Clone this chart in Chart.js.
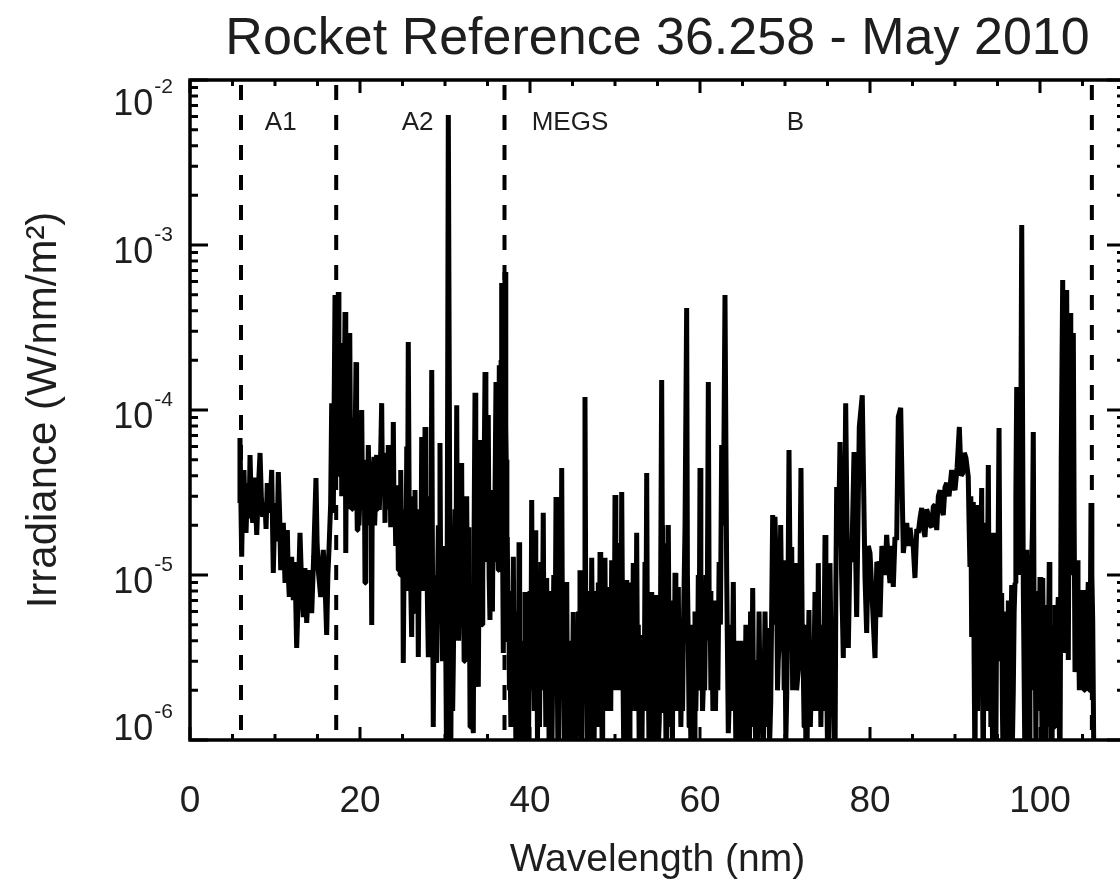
<!DOCTYPE html>
<html>
<head>
<meta charset="utf-8">
<style>
html,body{margin:0;padding:0;overflow:hidden;background:#fff;}
canvas{display:block;}
</style>
<script src="https://cdn.jsdelivr.net/npm/chart.js@4.4.1/dist/chart.umd.min.js"></script>
</head>
<body>
<canvas id="chart" width="1130" height="889" style="width:1130px;height:889px"></canvas>
<script>
// ---- data: [wavelength (nm), irradiance (W/nm/m^2)] ----
const titleText = 'Rocket Reference 36.258 - May 2010';
const xTitle = 'Wavelength (nm)';
const yTitle = 'Irradiance (W/nm/m\u00B2)';

const spectrumA1 = [
[5.80,2.73e-5],[5.88,6.76e-5],[6.08,1.29e-5],[6.20,3.2e-5],[6.35,4.33e-5],[6.47,2.4e-5],[6.59,1.80e-5],[6.72,2.9e-5],
[6.86,3.61e-5],[6.96,2.2e-5],[7.06,5.34e-5],[7.22,2.6e-5],[7.38,2.07e-5],[7.52,3.9e-5],[7.65,3.27e-5],[7.85,1.75e-5],
[8.05,3.4e-5],[8.24,5.49e-5],[8.40,2.9e-5],[8.55,2.25e-5],[8.82,2.73e-5],[8.95,1.9e-5],[9.09,3.61e-5],[9.33,2.38e-5],
[9.48,3.0e-5],[9.61,4.33e-5],[9.80,1.03e-5],[9.95,2.2e-5],[10.12,2.73e-5],[10.25,1.6e-5],[10.39,4.21e-5],[10.55,2.3e-5],
[10.67,1.07e-5],[10.82,1.6e-5],[10.98,2.07e-5],[11.18,8.94e-6],[11.30,1.5e-5],[11.45,1.87e-5],[11.56,1.0e-5],[11.68,7.36e-6],
[11.82,1.1e-5],[11.96,1.29e-5],[12.15,7.05e-6],[12.35,1.2e-5],[12.55,3.61e-6],[12.75,8.0e-6],[12.94,1.80e-5],[13.14,8.5e-6],
[13.33,5.56e-6],[13.52,1.1e-5],[13.73,5.12e-6],[13.90,8.0e-6],[14.04,1.07e-5],[14.32,5.88e-6],[14.55,1.3e-5],[14.82,3.87e-5],
[14.95,1.6e-5],[15.09,1.07e-5],[15.38,7.36e-6],[15.52,1.1e-5],[15.68,1.42e-5],[15.88,9.0e-6],[16.08,4.33e-6],[16.22,1.0e-5],
[16.35,1.42e-5],[16.55,2.73e-5]
];

const spectrumA2 = [
[16.67,1.10e-4],[16.86,2.38e-5],[17.06,4.98e-4],[17.11,6.0e-5],[17.16,4.0e-5],[17.21,2.5e-4],[17.26,1.10e-4],[17.35,3.0e-4],
[17.45,5.19e-4],[17.52,8.0e-5],[17.60,1.2e-4],[17.66,4.0e-5],[17.73,6.86e-5],[17.79,1.5e-4],[17.85,3.0e-5],[17.90,1.2e-4],
[17.96,2.55e-4],[18.03,4.0e-5],[18.10,5.0e-5],[18.17,1.5e-4],[18.24,3.93e-4],[18.30,4.0e-5],[18.35,1.36e-5],[18.42,1.0e-4],
[18.48,6.0e-5],[18.55,2.5e-5],[18.62,1.58e-4],[18.67,6.0e-5],[18.72,3.5e-5],[18.77,1.2e-4],[18.82,2.93e-4],[18.90,4.0e-5],
[18.98,9.0e-5],[19.06,2.5e-5],[19.14,4.33e-5],[19.22,8.0e-5],[19.30,2.8e-5],[19.42,6.0e-5],[19.53,1.95e-4],[19.60,4.0e-5],
[19.68,1.87e-5],[19.75,7.0e-5],[19.82,5.5e-5],[19.88,2.0e-5],[19.95,2.6e-5],[20.08,6.0e-5],[20.20,1.00e-4],[20.30,2.5e-5],
[20.40,3.0e-5],[20.50,5.0e-5],[20.59,8.94e-6],[20.68,4.0e-5],[20.78,3.2e-5],[20.88,2.0e-5],[20.98,6.14e-5],[21.08,3.5e-5],
[21.18,2.2e-5],[21.28,4.0e-5],[21.38,4.98e-6],[21.45,4.0e-5],[21.52,2.5e-5],[21.58,4.5e-5],[21.65,5.19e-5],[21.72,2.0e-5],
[21.80,2.6e-5],[21.88,4.5e-5],[21.96,5.34e-5],[22.03,2.5e-5],[22.10,3.0e-5],[22.18,5.0e-5],[22.27,2.48e-5],[22.40,4.5e-5],
[22.55,1.10e-4],[22.65,3.0e-5],[22.75,3.5e-5],[22.85,5.5e-5],[22.94,2.07e-5],[23.04,4.5e-5],[23.14,3.6e-5],[23.24,2.5e-5],
[23.33,6.14e-5],[23.40,2.5e-5],[23.47,3.0e-5],[23.54,5.0e-5],[23.61,1.95e-5],[23.68,3.0e-5],[23.76,4.0e-5],[23.84,2.0e-5],
[23.92,8.46e-5],[24.00,2.5e-5],[24.10,3.2e-5],[24.20,1.5e-5],[24.32,1.95e-5],[24.42,3.5e-5],[24.51,1.07e-5],[24.58,3.0e-5],
[24.65,2.5e-5],[24.72,1.0e-5],[24.79,4.33e-5],[24.87,2.0e-5],[24.95,1.2e-5],[25.02,2.5e-5],[25.09,2.93e-6],[25.20,1.5e-5],
[25.30,2.0e-5],[25.40,8.0e-6],[25.50,6.0e-5],[25.60,2.0e-5],[25.68,2.58e-4],[25.78,3.0e-5],[25.88,2.2e-5],[25.98,8.0e-6],
[26.08,4.21e-6],[26.18,2.0e-5],[26.28,1.5e-5],[26.38,6.0e-6],[26.47,3.27e-5],[26.56,8.0e-6],[26.66,1.2e-5],[26.76,2.5e-5],
[26.86,3.18e-6],[26.96,1.2e-5],[27.06,2.5e-5],[27.16,8.0e-6],[27.26,6.86e-5],[27.35,1.0e-5],[27.45,2.2e-5],[27.55,8.0e-6],
[27.65,7.89e-5],[27.75,2.5e-5],[27.85,1.5e-5],[27.95,6.0e-6],[28.04,3.18e-6],[28.14,1.2e-5],[28.24,3.0e-5],[28.34,8.0e-6],
[28.44,1.75e-4],[28.53,1.0e-5],[28.62,1.20e-6],[28.72,6.0e-6],[28.82,1.0e-5],[28.92,4.0e-6],[29.02,2.93e-6],[29.12,8.0e-6],
[29.22,2.0e-5],[29.32,6.0e-6],[29.41,6.31e-5],[29.50,8.0e-6],[29.60,1.5e-5],[29.70,3.0e-6],[29.80,4.21e-6],[29.90,1.5e-5],
[30.00,1.2e-5],[30.10,3.0e-6],[30.20,6.0e-7],[30.39,6.14e-3],[30.67,6.0e-7],[30.75,4.0e-6],[30.82,1.0e-5],[30.90,1.5e-6],
[30.98,2.93e-6],[31.08,1.0e-5],[31.18,2.5e-5],[31.28,6.0e-6],[31.38,1.07e-4],[31.45,1.0e-5],[31.52,2.0e-5],[31.60,4.0e-6],
[31.68,6.76e-6],[31.75,2.5e-5],[31.82,1.8e-5],[31.89,5.0e-6],[31.96,4.77e-5],[32.05,6.0e-6],[32.15,1.5e-5],[32.25,3.0e-6],
[32.35,5.56e-6],[32.45,1.5e-5],[32.55,3.0e-5],[32.65,6.0e-6],[32.74,1.95e-5],[32.81,3.0e-6],[32.88,6.0e-6],[32.95,1.2e-6],
[33.02,1.58e-6],[33.10,4.0e-6],[33.18,8.0e-6],[33.25,1.5e-6],[33.33,1.10e-6],[33.43,2.0e-5],[33.53,1.27e-4],[33.62,8.0e-6],
[33.72,1.5e-5],[33.82,3.0e-6],[33.92,2.10e-6],[34.02,1.5e-5],[34.12,6.58e-5],[34.20,8.0e-6],[34.28,2.0e-5],[34.36,5.0e-6],
[34.44,1.07e-5],[34.58,3.0e-5],[34.71,1.70e-4],[34.81,1.5e-5],[34.91,2.73e-5],[35.00,1.2e-5],[35.09,9.33e-5],[35.19,1.0e-5],
[35.29,5.34e-6],[35.38,2.5e-5],[35.48,1.8e-5],[35.58,6.0e-6],[35.68,3.27e-5],[35.76,1.2e-5],[35.85,2.0e-5],[35.92,5.0e-5],
[36.00,1.48e-4],[36.14,2.0e-5],[36.27,1.07e-5],[36.33,5.0e-5],[36.39,1.87e-4],[36.46,3.0e-5],[36.52,5.0e-5],[36.60,2.0e-4],
[36.67,5.88e-4],[36.76,2.0e-5],[36.86,3.37e-6],[36.96,1.0e-4],[37.06,6.86e-4]
];

const spectrumB1 = [
[37.15,8.0e-5],[37.20,5.0e-5],[37.28,8.0e-6],[37.33,1.70e-5],[37.42,4.0e-6],[37.50,8.0e-6],[37.58,2.0e-6],[37.65,3.37e-6],
[37.75,1.2e-6],[37.85,8.0e-6],[37.95,2.5e-6],[38.04,1.29e-5],[38.14,1.5e-6],[38.24,4.0e-6],[38.34,9.0e-7],[38.44,1.04e-6],
[38.51,3.0e-6],[38.58,6.0e-6],[38.64,1.5e-6],[38.71,1.58e-5],[38.78,2.0e-6],[38.86,3.0e-6],[38.94,8.0e-7],[39.02,6.0e-7],
[39.12,2.5e-6],[39.22,4.0e-6],[39.32,1.0e-6],[39.41,7.89e-6],[39.50,1.2e-6],[39.60,2.0e-6],[39.70,7.0e-7],[39.80,6.0e-7],
[39.90,3.0e-6],[40.00,8.0e-6],[40.10,2.0e-6],[40.20,2.85e-5],[40.30,3.0e-6],[40.40,6.0e-6],[40.50,1.5e-6],[40.59,1.87e-5],
[40.68,2.0e-6],[40.78,7.0e-6],[40.88,1.0e-6],[40.98,4.04e-6],[41.12,1.2e-6],[41.28,1.2e-5],[41.42,2.0e-6],[41.56,2.38e-5],
[41.66,2.5e-6],[41.76,5.0e-6],[41.86,1.2e-6],[41.96,9.59e-6],[42.06,1.5e-6],[42.15,3.66e-6],[42.25,9.0e-7],[42.35,8.0e-6],
[42.45,1.0e-6],[42.55,6.0e-7],[42.68,3.0e-6],[42.80,1.0e-5],[42.93,2.0e-6],[43.06,2.97e-5],[43.13,5.0e-6],[43.20,3.0e-6],
[43.27,1.0e-6],[43.33,6.0e-7],[43.42,4.0e-6],[43.52,1.0e-5],[43.62,2.0e-6],[43.73,4.45e-5],[43.82,4.0e-6],[43.92,3.37e-6],
[44.02,1.0e-6],[44.12,6.0e-6],[44.22,1.5e-6],[44.32,9.07e-6],[44.42,1.2e-6],[44.51,6.0e-7],[44.65,2.0e-6],[44.80,4.0e-6],
[44.95,1.0e-6],[45.09,5.97e-6],[45.20,1.0e-6],[45.30,2.0e-6],[45.40,7.0e-7],[45.49,3.18e-6],[45.60,1.2e-6],[45.70,6.0e-6],
[45.80,1.5e-6],[45.88,1.07e-5],[45.98,1.5e-6],[46.08,6.0e-7],[46.18,3.0e-6],[46.28,1.0e-5],[46.38,4.0e-6],[46.47,1.20e-4],
[46.56,6.0e-6],[46.66,8.0e-6],[46.76,1.0e-6],[46.86,1.58e-6],[46.96,1.0e-6],[47.06,6.0e-6],[47.16,1.5e-6],[47.26,1.27e-5],
[47.36,3.0e-6],[47.45,2.22e-6],[47.55,1.0e-6],[47.65,8.0e-6],[47.75,1.5e-6],[47.85,5.12e-6],[47.95,1.2e-6],[48.04,9.0e-6],
[48.14,2.0e-6],[48.24,1.38e-5],[48.32,2.0e-6],[48.40,4.0e-6],[48.48,1.0e-6],[48.55,2.93e-6],[48.68,1.5e-6],[48.82,1.27e-5],
[48.92,2.0e-6],[49.02,5.0e-6],[49.12,1.5e-6],[49.21,8.46e-6],[49.30,2.0e-6],[49.40,4.0e-6],[49.50,1.5e-6],[49.61,1.23e-5],
[49.70,3.0e-6],[49.80,7.0e-6],[49.90,2.0e-6],[50.00,3.05e-5],[50.10,3.0e-6],[50.20,7.36e-6],[50.30,2.0e-6],[50.39,1.56e-5],
[50.49,2.5e-6],[50.59,7.36e-6],[50.69,2.0e-6],[50.79,3.18e-5],[50.92,3.0e-6],[51.06,6.0e-7],[51.13,2.0e-6],[51.20,5.0e-6],
[51.29,1.5e-6],[51.38,9.33e-6],[51.47,1.5e-6],[51.56,3.0e-6],[51.66,9.0e-7],[51.76,5.34e-6],[51.85,1.5e-6],[51.95,9.0e-6],
[52.05,2.0e-6],[52.15,1.18e-5],[52.25,2.0e-6],[52.35,6.0e-6],[52.45,1.5e-6],[52.55,1.80e-5],[52.65,2.0e-6],[52.74,5.0e-6],
[52.84,1.0e-6],[52.94,2.22e-6],[53.04,9.0e-7],[53.14,6.0e-7],[53.23,2.0e-6],[53.33,4.33e-6],[53.43,1.5e-6],[53.53,1.2e-5],
[53.63,3.0e-6],[53.73,4.15e-5],[53.80,5.0e-6],[53.88,6.0e-6],[53.96,1.5e-6],[54.04,6.0e-7],[54.11,2.0e-6],[54.18,5.0e-6],
[54.25,1.5e-6],[54.32,7.89e-6],[54.42,1.2e-6],[54.52,3.0e-6],[54.62,1.0e-6],[54.71,7.56e-6],[54.81,1.5e-6],[54.91,3.87e-6],
[55.06,8.0e-7],[55.21,1.32e-6],[55.35,5.0e-6],[55.49,1.52e-4],[55.56,2.0e-5],[55.62,6.0e-6],[55.69,1.5e-6],[55.76,1.56e-5],
[55.84,2.0e-6],[55.92,3.0e-6],[56.00,9.0e-7],[56.08,1.52e-6],[56.18,4.0e-6],[56.27,2.01e-5],[56.37,3.0e-6],[56.47,5.0e-6],
[56.57,1.2e-6],[56.67,2.66e-6],[56.76,1.0e-6],[56.86,7.0e-6],[56.96,2.0e-6],[57.06,1.03e-5],[57.16,1.5e-6],[57.25,3.0e-6],
[57.35,1.5e-6],[57.45,8.46e-6],[57.55,1.5e-6],[57.65,4.0e-6],[57.75,1.2e-6],[57.85,2.77e-6],[57.95,1.5e-6],[58.04,4.45e-6],
[58.24,2.0e-5],[58.43,4.15e-4],[58.52,1.0e-5],[58.62,4.0e-6],[58.72,1.2e-6],[58.82,2.55e-6],[58.92,1.0e-6],[59.02,5.0e-6],
[59.12,1.2e-6],[59.21,1.95e-6],[59.31,1.0e-6],[59.41,6.0e-6],[59.51,1.5e-6],[59.61,3.18e-6],[59.70,2.0e-6],[59.80,1.0e-5],
[59.90,3.0e-6],[60.00,4.45e-5],[60.10,3.0e-6],[60.20,5.0e-6],[60.30,1.5e-6],[60.39,2.10e-6],[60.55,2.0e-6],[60.70,1.0e-5],
[60.84,4.0e-6],[60.98,1.48e-4],[61.08,6.0e-6],[61.18,8.0e-6],[61.28,2.0e-6],[61.38,5.34e-6],[61.52,1.5e-6],[61.67,7.0e-6],
[61.82,1.5e-6],[61.96,4.33e-6],[62.10,2.0e-6],[62.25,1.2e-5],[62.40,5.0e-6],[62.55,6.14e-5],[62.75,2.0e-5],[62.94,4.98e-4],
[63.14,1.0e-5],[63.33,1.10e-6],[63.48,2.0e-6],[63.62,5.0e-6],[63.77,1.5e-6],[63.92,9.07e-6],[64.02,1.5e-6],[64.12,3.0e-6],
[64.22,9.0e-7],[64.32,2.10e-6],[64.42,1.0e-6],[64.52,4.0e-6],[64.62,8.0e-7],[64.71,6.0e-7],[64.80,1.5e-6],[64.90,4.0e-6],
[65.00,1.0e-6],[65.09,1.23e-6],[65.25,1.0e-6],[65.40,5.0e-6],[65.54,1.2e-6],[65.68,3.51e-6],[65.82,1.0e-6],[65.95,6.0e-6],
[66.08,1.5e-6],[66.20,8.34e-6],[66.32,1.2e-6],[66.45,2.0e-6],[66.56,8.0e-7],[66.67,3.05e-6],[66.81,1.0e-6],[66.95,6.0e-6],
[67.10,1.2e-6],[67.26,2.31e-6],[67.45,9.0e-7],[67.65,6.0e-6],[67.85,1.2e-6],[68.04,4.77e-6],[68.18,9.0e-7],[68.32,1.68e-6],
[68.55,2.31e-5],[68.68,5.0e-6],[68.82,2.25e-5],[69.02,8.0e-6],[69.12,2.0e-6],[69.21,3.05e-6],[69.35,4.0e-6],[69.49,2.01e-5],
[69.65,4.0e-6],[69.80,1.23e-5],[69.90,2.0e-6],[70.00,4.0e-6],[70.10,1.0e-6],[70.20,1.82e-6],[70.34,6.0e-6],[70.47,5.72e-5],
[70.63,6.0e-6],[70.79,1.48e-5],[70.90,2.0e-6],[71.00,5.0e-6],[71.09,2.0e-6],[71.18,1.18e-5],[71.37,2.0e-6],[71.56,2.66e-6],
[71.72,6.0e-6],[71.88,4.45e-5],[72.02,5.0e-6],[72.15,2.66e-6],[72.25,1.2e-6],[72.35,5.0e-6],[72.45,1.0e-6],[72.55,6.0e-7],
[72.68,2.0e-6],[72.82,6.14e-6],[72.98,1.2e-6],[73.14,2.93e-6],[73.34,1.5e-6],[73.53,7.89e-6],[73.62,2.0e-6],[73.72,4.0e-6],
[73.82,1.5e-6],[73.92,1.18e-5],[74.02,2.0e-6],[74.12,5.0e-6],[74.22,1.2e-6],[74.32,3.05e-6],[74.52,1.5e-6],[74.71,1.75e-5],
[74.81,3.0e-6],[74.91,2.22e-6],[75.00,9.0e-7],[75.09,6.0e-7],[75.19,3.0e-6],[75.29,1.18e-5],[75.48,2.0e-6],[75.68,2.01e-6],
[75.78,1.0e-6],[75.88,6.0e-7],[75.98,8.0e-6],[76.08,3.41e-5]
];

const spectrumB2 = [
[76.28,1.5e-5],[76.47,6.40e-5],[76.66,1.0e-5],[76.86,3.14e-6],[77.14,1.10e-4],[77.45,3.61e-6],[77.65,1.5e-5],[77.85,1.20e-5],
[78.12,5.56e-5],[78.43,5.56e-6],[78.74,7.89e-5],[79.09,1.23e-4],[79.41,9.72e-6],[79.61,4.45e-6],[79.80,1.5e-5],[80.00,1.36e-5],
[80.32,6.14e-6],[80.59,3.14e-6],[80.80,1.2e-5],[80.98,1.15e-5],[81.18,5.56e-6],[81.40,1.5e-5],[81.57,1.29e-5],[81.76,1.0e-5],
[81.96,1.75e-5],[82.15,1.2e-5],[82.35,8.94e-6],[82.55,1.5e-5],[82.74,8.46e-6],[82.94,1.7e-5],[83.14,1.63e-5],[83.33,9.07e-5],
[83.61,1.03e-4],[83.92,1.36e-5],[84.12,1.7e-5],[84.32,2.07e-5],[84.52,1.5e-5],[84.71,1.93e-5],[84.90,1.6e-5],[85.09,1.48e-5],
[85.29,9.59e-6],[85.50,1.9e-5],[85.68,1.80e-5],[85.88,2.2e-5],[86.08,2.55e-5],[86.28,1.9e-5],[86.47,1.70e-5],[86.66,2.5e-5],
[86.86,2.31e-5],[87.06,2.0e-5],[87.26,1.95e-5],[87.45,2.6e-5],[87.65,2.66e-5],[87.85,1.87e-5],[88.04,3.0e-5],[88.24,3.27e-5],
[88.43,2.5e-5],[88.62,2.31e-5],[88.82,3.4e-5],[89.02,3.61e-5],[89.30,3.0e-5],[89.61,4.33e-5],[89.80,3.5e-5],[90.00,3.27e-5],
[90.25,4.5e-5],[90.51,7.89e-5],[90.71,4.0e-5],[90.91,4.15e-5],[91.10,5.5e-5],[91.29,5.12e-5],[91.56,3.93e-5]
];

const spectrumB3 = [
[91.66,2.0e-5],[91.76,1.12e-5],[91.86,3.0e-5],[91.96,4.21e-6],[92.05,1.5e-5],[92.15,2.77e-5],[92.25,3.0e-6],[92.35,6.0e-7],
[92.45,1.2e-5],[92.55,1.0e-5],[92.65,1.5e-6],[92.74,2.66e-5],[92.84,6.0e-6],[92.94,4.21e-6],[93.04,1.5e-5],[93.14,3.37e-5],
[93.24,2.0e-6],[93.33,6.0e-7],[93.43,8.0e-6],[93.53,2.07e-5],[93.63,1.5e-6],[93.72,6.0e-6],[93.82,1.0e-5],[93.92,4.64e-5],
[94.02,5.0e-6],[94.12,1.63e-5],[94.22,1.2e-6],[94.32,4.45e-6],[94.42,9.0e-7],[94.51,1.80e-5],[94.60,1.5e-6],[94.70,3.0e-6],
[94.80,7.0e-7],[94.91,7.78e-6],[95.05,1.0e-5],[95.18,7.78e-5],[95.33,3.0e-6],[95.49,7.78e-6],[95.58,1.5e-6],[95.68,6.0e-7],
[95.78,3.0e-6],[95.88,6.0e-6],[95.98,1.0e-6],[96.08,4.45e-6],[96.18,1.2e-6],[96.28,7.0e-6],[96.38,1.5e-6],[96.47,6.0e-7],
[96.57,4.0e-6],[96.67,8.70e-6],[96.76,1.0e-6],[96.86,2.0e-6],[96.96,6.0e-6],[97.06,8.94e-6],[97.16,3.0e-5],[97.26,1.38e-4],
[97.38,2.0e-5],[97.50,1.0e-5],[97.60,6.0e-5],[97.70,2.0e-5],[97.85,1.32e-3],[98.04,8.0e-6],[98.24,6.0e-7],[98.34,4.0e-6],
[98.44,1.42e-5],[98.53,2.0e-6],[98.62,3.0e-6],[98.72,1.0e-6],[98.82,4.52e-6],[98.92,2.0e-6],[99.02,1.2e-5],[99.12,2.0e-5],
[99.21,7.36e-5],[99.31,5.0e-6],[99.41,8.0e-6],[99.51,1.0e-6],[99.61,3.93e-6],[99.70,1.5e-6],[99.80,8.0e-6],[99.90,2.0e-6],
[100.00,9.72e-6],[100.08,1.5e-6],[100.16,3.0e-6],[100.24,9.0e-7],[100.32,9.59e-6],[100.45,2.0e-6],[100.59,6.0e-7],[100.69,2.0e-6],
[100.79,6.58e-6],[100.87,1.2e-6],[100.95,2.0e-6],[101.02,5.0e-6],[101.09,1.20e-5],[101.16,2.0e-6],[101.24,4.0e-6],[101.31,1.0e-6],
[101.38,6.0e-7],[101.48,2.0e-6],[101.58,5.0e-6],[101.67,1.2e-6],[101.76,6.58e-6],[101.86,1.5e-6],[101.95,2.0e-6],[102.05,5.0e-6],
[102.15,7.36e-6],[102.25,1.5e-6],[102.35,6.0e-7],[102.50,5.0e-5],[102.67,6.14e-4],[102.80,2.0e-5],[102.94,3.37e-6],[103.04,5.0e-5],
[103.14,5.34e-4],[103.24,2.0e-5],[103.33,3.05e-6],[103.43,4.0e-5],[103.53,3.87e-4],[103.62,3.0e-5],[103.72,1.0e-5],[103.85,1.36e-5],
[103.92,2.93e-4],[104.02,2.0e-5],[104.12,2.58e-6],[104.26,5.0e-6],[104.39,1.23e-5],[104.47,3.0e-6],[104.55,4.0e-6],[104.63,2.0e-6],
[104.71,8.11e-6],[104.81,3.0e-6],[104.91,5.34e-6],[105.00,2.5e-6],[105.09,8.11e-6],[105.19,2.0e-6],[105.29,2.15e-6],[105.48,4.0e-6],
[105.68,9.07e-6],[105.78,2.0e-6],[105.88,2.10e-6],[105.94,8.0e-6],[106.00,2.73e-5],[106.10,1.0e-5],[106.20,5.34e-6],[106.35,6.0e-7]
];

// channel boundaries (dashed lines) and channel names
const channelBounds = [6.0, 17.2, 37.0, 106.1];
const channelNames = ['A1', 'A2', 'MEGS', 'B'];
const channelNameX = [8.8, 24.9, 40.2, 70.2];
const channelNameY = 4.98e-3;

// axes
const xMin = 0, xMax = 110;
const xTickValues = [0, 20, 40, 60, 80, 100];
const xMinorStep = 5;
const yMin = 1e-6, yMax = 1e-2;
const yDecadeExponents = [-2, -3, -4, -5, -6];

const FONT = '"Liberation Sans", Arial, Helvetica, sans-serif';
const TEXT = '#1e1e1e';

Chart.defaults.font.family = FONT;
Chart.defaults.color = TEXT;

const spectrum = [].concat(spectrumA1, spectrumA2, spectrumB1, spectrumB2, spectrumB3)
  .map(p => ({x: p[0], y: p[1]}));

const framePlugin = {
  id: 'frame',
  afterDatasetsDraw(chart) {
    const {ctx, chartArea: a, scales: {x, y}} = chart;
    ctx.save();
    ctx.strokeStyle = '#000';
    ctx.lineWidth = 3;
    ctx.beginPath();
    for (let v = xMin; v <= xMax; v += xMinorStep) {
      const px = x.getPixelForValue(v);
      const len = (v % 20 === 0) ? 13 : 6;
      ctx.moveTo(px, a.bottom); ctx.lineTo(px, a.bottom - len);
      ctx.moveTo(px, a.top); ctx.lineTo(px, a.top + len);
    }
    yDecadeExponents.forEach(k => {
      for (let m = 1; m <= 9; m++) {
        const v = m * Math.pow(10, k);
        if (v > yMax * 1.0001) continue;
        const py = y.getPixelForValue(v);
        const len = m === 1 ? 18 : 8;
        ctx.moveTo(a.left, py); ctx.lineTo(a.left + len, py);
        ctx.moveTo(a.right, py); ctx.lineTo(a.right - len, py);
      }
    });
    ctx.stroke();
    ctx.lineWidth = 3.5;
    ctx.strokeRect(a.left, a.top, a.right - a.left, a.bottom - a.top);

    // y tick labels 10^k
    ctx.fillStyle = TEXT;
    ctx.textBaseline = 'alphabetic';
    yDecadeExponents.forEach(k => {
      const py = y.getPixelForValue(Math.pow(10, k));
      let base = py + 18;
      base = Math.max(a.top + 35, Math.min(a.bottom, base));
      const right = a.left - 17;
      const sup = String(k);
      ctx.font = '21px ' + FONT;
      ctx.textAlign = 'right';
      ctx.fillText(sup, right, base - 22);
      const sw = ctx.measureText(sup).width;
      ctx.font = '36px ' + FONT;
      ctx.fillText('10', right - sw - 1, base);
    });

    // channel names
    ctx.font = '26px ' + FONT;
    ctx.textAlign = 'left';
    const ny = y.getPixelForValue(channelNameY);
    channelNames.forEach((n, i) => {
      ctx.fillText(n, x.getPixelForValue(channelNameX[i]), ny);
    });

    // title
    ctx.font = '52px ' + FONT;
    ctx.textAlign = 'center';
    ctx.fillText(titleText, (a.left + a.right) / 2, 54);
    ctx.restore();
  }
};

const datasets = [{
  data: spectrum,
  borderColor: '#000',
  borderWidth: 5,
  pointRadius: 0,
  tension: 0,
  borderJoinStyle: 'bevel',
  borderCapStyle: 'butt'
}];
channelBounds.forEach(b => {
  datasets.push({
    data: [{x: b, y: yMax}, {x: b, y: yMin}],
    borderColor: '#000',
    borderWidth: 4,
    borderDash: [15, 15],
    borderDashOffset: 25,
    pointRadius: 0
  });
});

new Chart(document.getElementById('chart'), {
  type: 'line',
  data: {datasets},
  options: {
    responsive: false,
    animation: false,
    events: [],
    layout: {padding: {top: 80, right: 5, left: 0, bottom: 0}},
    plugins: {legend: {display: false}, tooltip: {enabled: false}, title: {display: false}},
    scales: {
      x: {
        type: 'linear', min: xMin, max: xMax,
        grid: {display: false, drawTicks: false},
        border: {display: false},
        afterBuildTicks: s => { s.ticks = xTickValues.map(v => ({value: v})); },
        afterFit: s => { s.height = 149; },
        ticks: {font: {size: 37}, color: TEXT, padding: 40, maxRotation: 0, autoSkip: false},
        title: {display: true, text: xTitle, font: {size: 39}, color: TEXT, padding: {top: 0, bottom: 5}}
      },
      y: {
        type: 'logarithmic', min: yMin, max: yMax,
        grid: {display: false, drawTicks: false},
        border: {display: false},
        ticks: {display: false},
        afterFit: s => { s.width = 190; },
        title: {display: true, text: yTitle, font: {size: 42}, color: TEXT, padding: {top: 19, bottom: 0}}
      }
    }
  },
  plugins: [framePlugin]
});
</script>
</body>
</html>
